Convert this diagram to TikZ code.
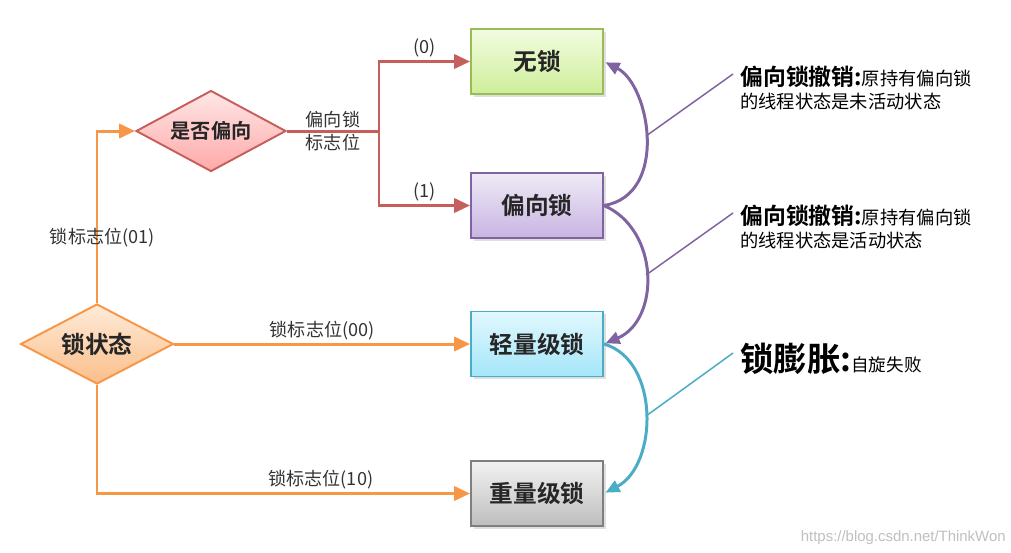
\documentclass[tikz,border=0pt]{standalone}
\usepackage{fontspec}
\setmainfont{Noto Sans CJK SC}[BoldFont={Noto Sans CJK SC Bold}]
\newfontfamily\urlfont{Liberation Sans}
\usetikzlibrary{shapes.geometric,arrows.meta,shadows}

\definecolor{lineorange}{HTML}{F79646}
\definecolor{linered}{HTML}{C65F5C}
\definecolor{linepurple}{HTML}{8064A2}
\definecolor{linecyan}{HTML}{4BACC6}
\definecolor{linegreen}{HTML}{9BBB59}
\definecolor{linegray}{HTML}{7F7F7F}
\definecolor{greentop}{HTML}{F2FCE0}
\definecolor{greenbot}{HTML}{CEEE9A}
\definecolor{purpletop}{HTML}{EFEAF6}
\definecolor{purplebot}{HTML}{C8B4E2}
\definecolor{cyantop}{HTML}{E2F8FE}
\definecolor{cyanbot}{HTML}{A4E6F9}
\definecolor{graytop}{HTML}{F2F2F2}
\definecolor{graybot}{HTML}{BEBEBE}
\definecolor{pinktop}{HTML}{FFE6E6}
\definecolor{pinkbot}{HTML}{FFA9A9}
\definecolor{peachtop}{HTML}{FEEBD8}
\definecolor{peachbot}{HTML}{FBBE8A}

\begin{document}
\begin{tikzpicture}[x=0.02cm, y=-0.02cm,
    lockbox/.style={rectangle, draw, line width=1.1pt, minimum width=2.64cm, minimum height=1.3cm,
        font=\fontsize{13.5}{16}\selectfont\bfseries, text=black!85,
        drop shadow={opacity=0.25, shadow xshift=1.5pt, shadow yshift=-1.5pt}},
    choice/.style={diamond, draw, line width=1.1pt, inner sep=0pt, aspect=1.9, text=black!85},
    edgelabel/.style={font=\fontsize{10.3}{13}\selectfont, text=black!80, inner sep=1.5pt},
    flow/.style={line width=1.7pt, -{Triangle[length=9pt,width=8pt]}},
    transition/.style={line width=1.7pt, -{Triangle[length=8pt,width=7pt]}, shorten >=1pt},
    pointer/.style={line width=0.85pt},
]
\useasboundingbox (0,0) rectangle (1011,552);

% decisions
\node[choice, draw=lineorange, top color=peachtop, bottom color=peachbot,
      minimum width=3.06cm, minimum height=1.6cm, font=\fontsize{13.5}{15}\selectfont\bfseries] (state) at (97,344) {锁状态};
\node[choice, draw=linered, top color=pinktop, bottom color=pinkbot,
      minimum width=3cm, minimum height=1.62cm, font=\fontsize{11.5}{13}\selectfont\bfseries] (biasq) at (211,131) {是否偏向};

% lock states
\node[lockbox, draw=linegreen, top color=greentop, bottom color=greenbot] (nolock) at (537,61.5) {无锁};
\node[lockbox, draw=linepurple, top color=purpletop, bottom color=purplebot] (biased) at (537,205.5) {偏向锁};
\node[lockbox, draw=linecyan, top color=cyantop, bottom color=cyanbot] (light) at (537,344) {轻量级锁};
\node[lockbox, draw=linegray, top color=graytop, bottom color=graybot] (heavy) at (537,493.5) {重量级锁};

\coordinate (split) at (379,131);

% flag bits
\draw[flow, lineorange] (state.north) |- node[pos=0.19, xshift=3pt, edgelabel] {锁标志位(01)} (biasq.west);
\draw[flow, lineorange] (state.east) -- node[above, edgelabel] {锁标志位(00)} (light.west);
\draw[flow, lineorange] (state.south) |- node[pos=0.8, above, edgelabel] {锁标志位(10)} (heavy.west);
\draw[line width=1.7pt, linered] (biasq.east) -- node[edgelabel, align=center] {偏向锁\\标志位} (split);
\draw[flow, linered] (split) |- node[pos=0.75, above, edgelabel] {(0)} (nolock.west);
\draw[flow, linered] (split) |- node[pos=0.75, above, edgelabel] {(1)} (biased.west);

% transitions
\draw[transition, linepurple] (biased.east) .. controls (669,195) and (650,85) .. (nolock.east);
\draw[transition, linepurple] (biased.east) .. controls (660,230) and (660,320) .. (light.east);
\draw[transition, linecyan] (light.east) .. controls (660,360) and (658,465) .. (heavy.east);

% notes
\coordinate (k1) at (646,136);
\coordinate (k2) at (646,275);
\coordinate (k3) at (646,416);
\coordinate (r1) at (733,74);
\coordinate (r2) at (733,213);
\coordinate (r3) at (733,353);
\draw[pointer, linepurple] (k1) -- (r1);
\draw[pointer, linepurple] (k2) -- (r2);
\draw[pointer, linecyan] (k3) -- (r3);

\node[anchor=north west, align=left, inner sep=0pt, font=\fontsize{10.4}{13}\selectfont] (revoke1) at (740,66)
    {{\fontsize{13}{15}\selectfont\bfseries 偏向锁撤销:}原持有偏向锁\\的线程状态是未活动状态};
\node[anchor=north west, align=left, inner sep=0pt, font=\fontsize{10.4}{13}\selectfont] (revoke2) at (740,205)
    {{\fontsize{13}{15}\selectfont\bfseries 偏向锁撤销:}原持有偏向锁\\的线程状态是活动状态};
\node[anchor=north west, inner sep=0pt, font=\fontsize{10}{12}\selectfont] (inflate) at (740,343)
    {{\fontsize{19}{22}\selectfont\bfseries 锁膨胀:}自旋失败};

\node[anchor=south east, inner sep=0pt, text=black!25, font=\urlfont\fontsize{8.5}{10}\selectfont] (mark) at (1006,545) {https://blog.csdn.net/ThinkWon};
\end{tikzpicture}
\end{document}
